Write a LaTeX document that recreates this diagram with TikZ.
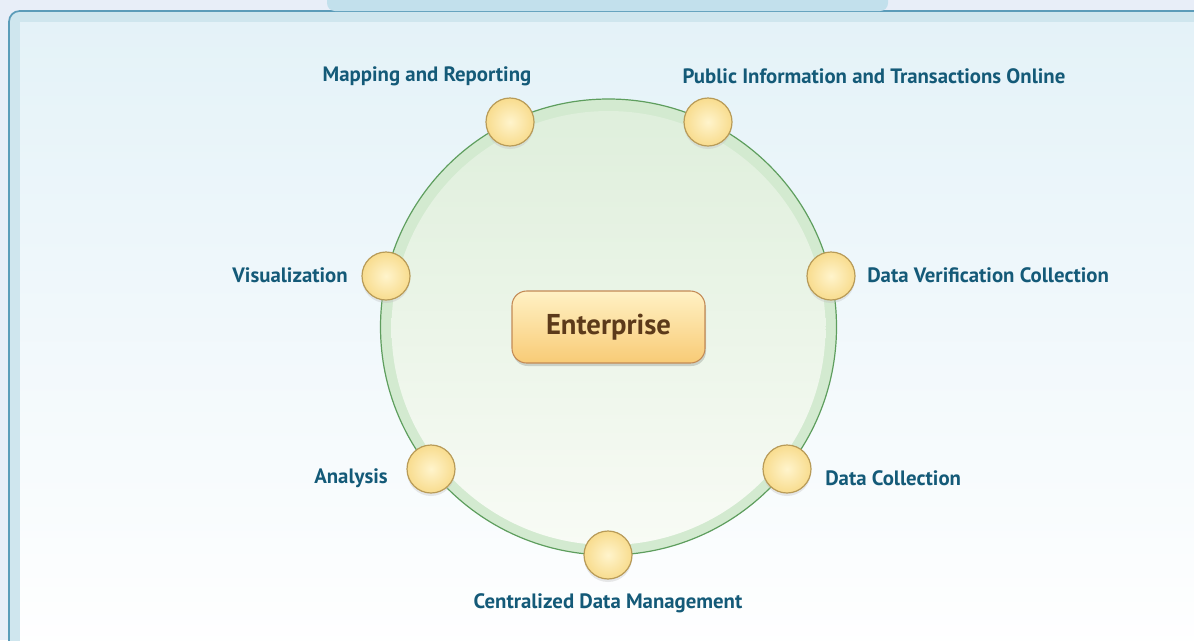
\documentclass[tikz,border=0pt]{standalone}
\usepackage{fontspec}
\setmainfont{PT Sans}
\usepackage{tikz}
\usetikzlibrary{shadings}

\definecolor{pagebg}{HTML}{E8EEF8}
\definecolor{panelline}{HTML}{5B9CB9}
\definecolor{panelband}{HTML}{CFE6EE}
\definecolor{paneltop}{HTML}{E4F2F8}
\definecolor{tabfill}{HTML}{C2E0EC}
\definecolor{ringline}{HTML}{5E9E5E}
\definecolor{ringfill}{HTML}{D3EAD0}
\definecolor{ringtop}{HTML}{DFEFDC}
\definecolor{ringbot}{HTML}{F8FBF5}
\definecolor{dotline}{HTML}{B89B58}
\definecolor{dotout}{HTML}{F8DC8E}
\definecolor{dotin}{HTML}{FFF4CC}
\definecolor{lbltext}{HTML}{145A78}
\definecolor{boxline}{HTML}{C38A55}
\definecolor{boxtop}{HTML}{FFF1C4}
\definecolor{boxbot}{HTML}{F8CB76}
\definecolor{boxtext}{HTML}{5C3A1A}

\tikzset{
  dot/.style={circle, minimum size=48pt*0.75, draw=dotline, line width=0.9pt,
    inner color=dotin, outer color=dotout},
  dotshadow/.style={circle, minimum size=48pt*0.75, fill=black!25, opacity=0.35},
  lbl/.style={text=lbltext, font=\fontsize{15.6}{18}\selectfont\bfseries, inner sep=0pt},
  hubbox/.style={rounded corners=11pt, draw=boxline, line width=0.8pt,
    top color=boxtop, bottom color=boxbot, minimum width=193pt*0.75,
    minimum height=72pt*0.75, text=boxtext,
    font=\fontsize{21.5}{25}\selectfont\bfseries}
}

\begin{document}
\begin{tikzpicture}[x=0.75pt,y=0.75pt]
                \useasboundingbox (0,0) rectangle (1194,-640);
                \fill [pagebg] (0,0) rectangle (1194,-640);
                % panel
                \begin{scope}
                \clip (0,0) rectangle (1194,-640);
                \fill [panelband, rounded corners=8pt] (9,-11) rectangle (1210,-660);
                \shade [top color=paneltop, bottom color=white] (20,-22) rectangle (1210,-660);
                \draw [panelline, line width=1.3pt, rounded corners=8pt] (1210,-11) -- (9,-11) -- (9,-660);
                \fill [tabfill, rounded corners=6pt] (327,8) rectangle (888,-11);
                \end{scope}
                % ring
                \draw [ringline, line width=0.9pt, fill=ringfill] (608.5,-327) circle (228);
                \shade [top color=ringtop, bottom color=ringbot] (608.5,-328) circle (217);
                % hub
                \fill [black, opacity=0.15, rounded corners=11pt] (513,-294) rectangle (706,-366);
                \node [hubbox] (hub) at (608.5,-327) {Enterprise};
                % dots
                \foreach \nm/\px/\py in {map/510/122, pub/708/122, vis/386/276, dver/831/276,
                    ana/431/469, dcol/787/469, cent/608/555} {
                  \node [dotshadow] at (\px,-\py-3) {};
                  \node [dot] (\nm) at (\px,-\py) {};
                }
                % labels
                \node [lbl] (maplbl) at (427,-76) {Mapping and Reporting};
                \node [lbl] (publbl) at (874,-76) {Public Information and Transactions Online};
                \node [lbl, anchor=east] (vislbl) at (348,-275) {Visualization};
                \node [lbl, anchor=west] (dverlbl) at (867,-275) {Data Verification Collection};
                \node [lbl, anchor=east] (analbl) at (388,-478) {Analysis};
                \node [lbl, anchor=west] (dcollbl) at (825,-478) {Data Collection};
                \node [lbl] (centlbl) at (608,-603) {Centralized Data Management};
                \end{tikzpicture}
\end{document}
